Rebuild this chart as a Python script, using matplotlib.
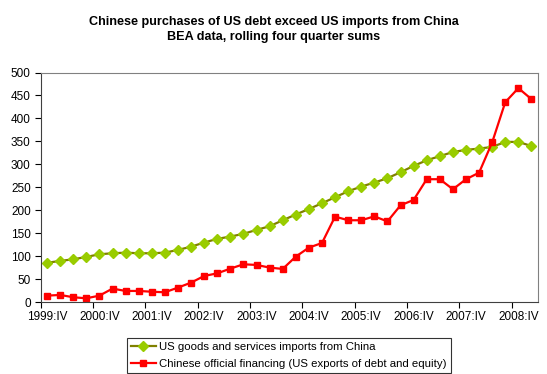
import numpy as np
import matplotlib
matplotlib.use('Agg')
import matplotlib.pyplot as plt

plt.rcParams['font.family'] = ['Liberation Sans', 'DejaVu Sans']

# quarters 1999:IV .. 2009:I, labels every fourth quarter
tick_labels = ['1999:IV', '2000:IV', '2001:IV', '2002:IV', '2003:IV',
               '2004:IV', '2005:IV', '2006:IV', '2007:IV', '2008:IV']

imports = [86, 90, 93.6, 98.7, 104.5, 106.7, 108, 106.7, 106.7, 108,
           114, 121, 130, 138, 143, 149, 157.5, 165.5, 178.5, 191,
           203, 215.5, 228.6, 241.6, 251.8, 260.5, 270, 283, 296.8, 309,
           318, 327, 331.6, 334.5, 338, 349, 349, 340]
financing = [14.5, 16, 11, 8.7, 14.5, 29.8, 24.7, 24.7, 23, 21.8,
             32, 42.8, 57.3, 63, 73.3, 82.7, 81.3, 75.5, 72.6, 99.4,
             119, 129, 186.5, 178.5, 178.5, 187, 176, 211, 222.8, 267.8,
             267.8, 246, 267.8, 282, 348, 435.4, 466, 442]

x = np.arange(len(imports))

fig = plt.figure(figsize=(5.47, 3.74), dpi=100)
ax = fig.add_axes([40.5/547, 1-302.3/374, (538-40.5)/547, (302.3-72.5)/374])

ax.plot(x, imports, color='#808000', lw=1.6, marker='D', ms=4.8,
        mfc='#99CC00', mec='#99CC00', label='US goods and services imports from China')
ax.plot(x, financing, color='#FF0000', lw=1.6, marker='s', ms=5,
        mfc='#FF0000', mec='#FF0000', label='Chinese official financing (US exports of debt and equity)')

ax.set_xlim(-0.5, len(x)-0.5)
ax.set_ylim(0, 500)
ax.set_yticks(np.arange(0, 501, 50))
ax.set_xticks(np.arange(-0.5, len(x)-1, 4))
ax.set_xticklabels([])
ax.set_xticks(np.arange(0, len(x), 4), minor=True)
ax.set_xticklabels(tick_labels, minor=True)
ax.tick_params(axis='x', which='minor', length=0, pad=6, labelsize=8.5)
ax.tick_params(axis='x', which='major', length=4, direction='out', width=0.8)
ax.tick_params(axis='y', length=4, direction='out', width=0.8, labelsize=8.5, pad=3)

for s in ['top', 'right']:
    ax.spines[s].set_color('#808080')
for s in ['left', 'bottom']:
    ax.spines[s].set_color('#404040')

fig.text(0.5, 1-21.7/374, 'Chinese purchases of US debt exceed US imports from China',
         ha='center', va='center', fontsize=9.1, fontweight='bold')
fig.text(0.5, 1-36.7/374, 'BEA data, rolling four quarter sums',
         ha='center', va='center', fontsize=9.1, fontweight='bold')

leg = fig.legend(loc='lower center', bbox_to_anchor=(288.6/547, 0.0), ncol=1,
                 fontsize=8.2, frameon=True, fancybox=False, edgecolor='black',
                 borderpad=0.35, labelspacing=0.6, handlelength=2.2, handletextpad=0.3,
                 borderaxespad=0.1)
leg.get_frame().set_linewidth(0.8)

fig.savefig('out.png', dpi=100)
